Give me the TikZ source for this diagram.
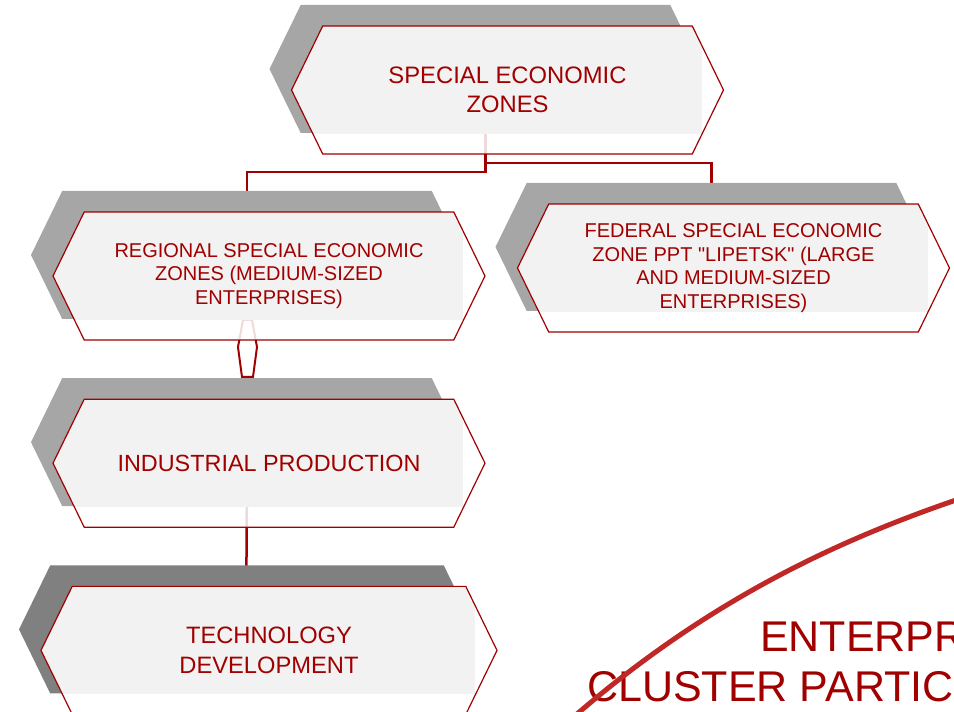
\documentclass[tikz,border=0pt]{standalone}
\usepackage{fontspec}
\setmainfont{Liberation Sans}[Ligatures=TeXOff]
\usetikzlibrary{positioning}
\usetikzlibrary{shapes.symbols, shadows, backgrounds}
\definecolor{zonered}{RGB}{160,0,0}
\definecolor{arcred}{RGB}{192,40,40}

\begin{document}
\begin{tikzpicture}[x=1pt, y=1pt,
                zonenode/.style={shape=signal, signal to=west and east, signal pointer angle=128,
                    draw=zonered, line width=1.2pt, text=zonered, align=center, inner sep=0pt,
                    minimum width=432pt, minimum height=128pt,
                    drop shadow={shadow xshift=-22pt, shadow yshift=21pt, draw=none, fill=#1, opacity=1},
                    path picture={
                        \fill[white, fill opacity=.85] (path picture bounding box.south west) rectangle (path picture bounding box.north east);
                        \fill[black!5] (path picture bounding box.north west) rectangle ([shift={(-22pt,20pt)}]path picture bounding box.south east);
                    }},
                zonenode/.default=black!35,
                linkline/.style={draw=zonered, line width=2.5pt},
                ]

                \useasboundingbox (0,0) rectangle (954,712);

                \node[zonenode, font=\fontsize{23.8}{29}\selectfont] (sez) at (507.5,622) {SPECIAL ECONOMIC\\ZONES};
                \node[zonenode, font=\fontsize{20}{23.5}\selectfont] (reg) at (269,436) {REGIONAL SPECIAL ECONOMIC\\ZONES (MEDIUM-SIZED\\ENTERPRISES)};
                \node[zonenode, font=\fontsize{20}{23.4}\selectfont] (fed) at (733.5,444) {FEDERAL SPECIAL ECONOMIC\\ZONE PPT "LIPETSK" (LARGE\\AND MEDIUM-SIZED\\ENTERPRISES)};
                \node[zonenode, below=58pt of reg, font=\fontsize{23.4}{29}\selectfont] (ind) {INDUSTRIAL PRODUCTION};
                \node[zonenode=black!50, minimum width=456pt, below=58pt of ind, font=\fontsize{23.7}{29.5}\selectfont] (tech) {TECHNOLOGY\\DEVELOPMENT};

                % links behind the zones
                \begin{scope}[on background layer]
                    \draw[linkline] ([xshift=-22pt]sez.center) -- ++(0,-82) -| ([xshift=-22pt]reg.center);
                    \draw[linkline] ([xshift=-22pt]sez.center) -- ++(0,-73) -| ([xshift=-22pt]fed.center);
                    \draw[linkline, line width=2pt] ([shift={(-26pt,-44pt)}]reg.center) -- ++(-5,-27) -- ++(4,-30) -- ++(11,0) -- ++(4,30) -- ++(-5,27) -- cycle;
                    \draw[linkline] ([xshift=-22pt]ind.center) -- ([xshift=-23pt]tech.center);
                \end{scope}

                \node[anchor=base west, inner sep=0pt, text=zonered, font=\fontsize{43}{50}\selectfont] (ent) at (760,60) {ENTERPR};
                \node[anchor=base west, inner sep=0pt, text=zonered, font=\fontsize{43}{50}\selectfont] (clu) at (587,10) {CLUSTER PARTIC};
                \draw[arcred, line width=5pt] (577,-2) .. controls (705,108) and (829,169) .. (962,214);
            \end{tikzpicture}
\end{document}
